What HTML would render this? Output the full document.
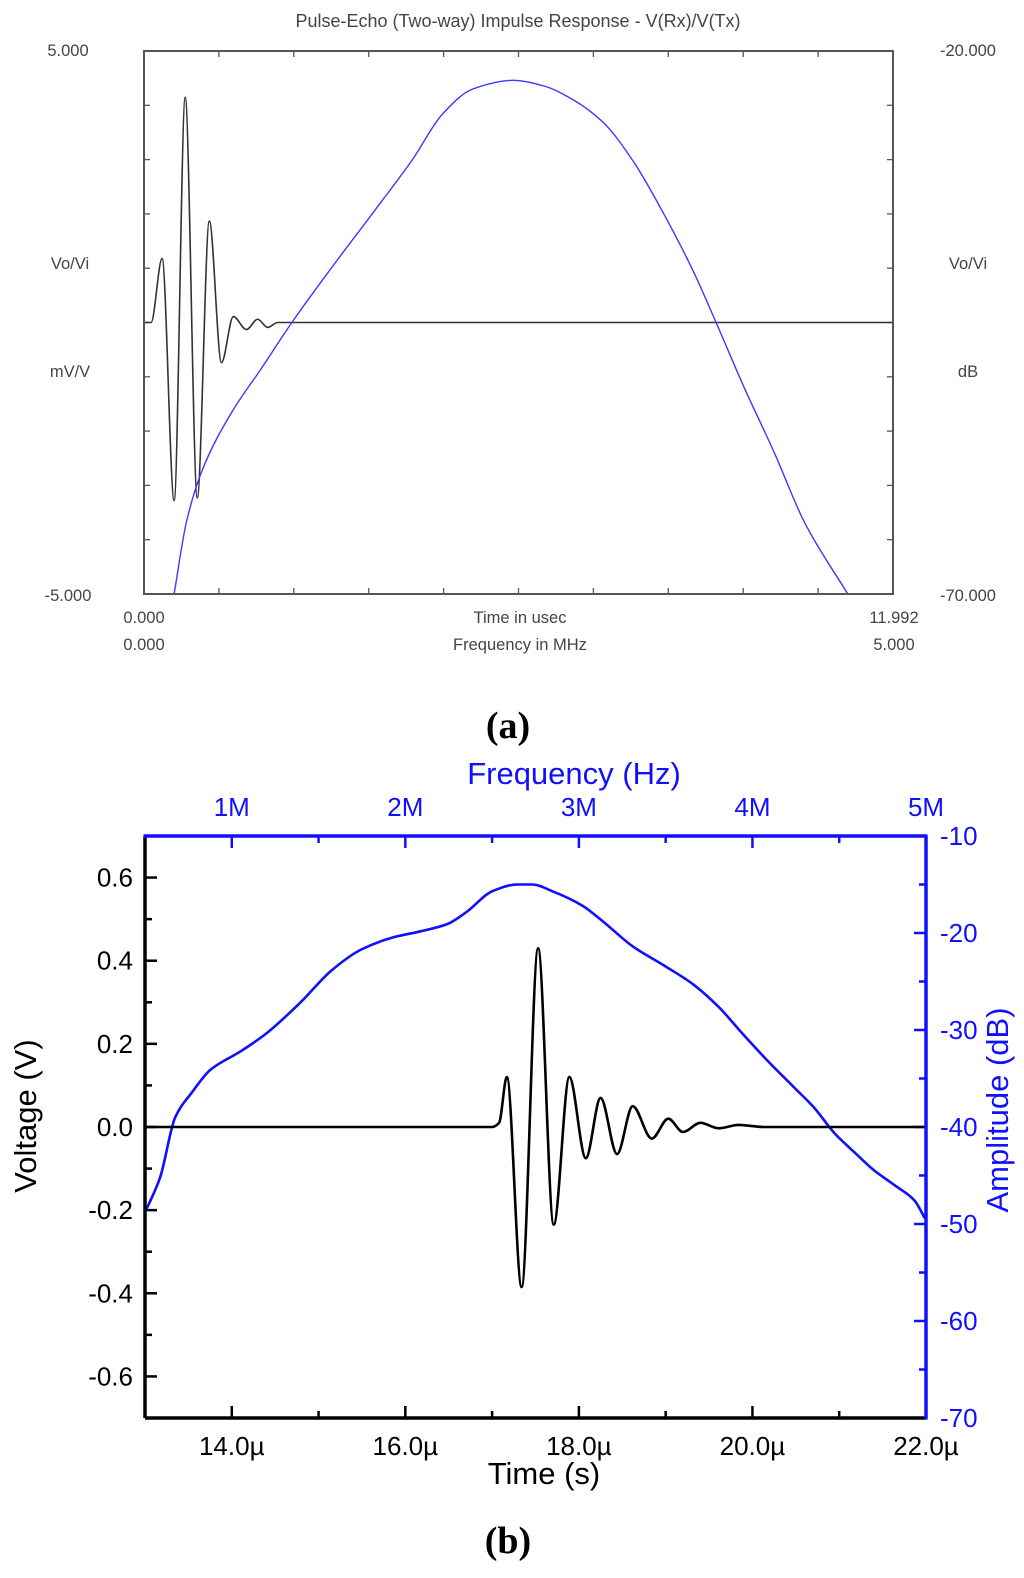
<!DOCTYPE html>
<html><head><meta charset="utf-8"><style>
html,body{margin:0;padding:0;background:#fff;}
svg{display:block;font-family:"Liberation Sans",sans-serif;}
</style></head><body>
<svg id="fig" width="1024" height="1578" viewBox="0 0 1024 1578">
<g id="chartA"></g>
<g id="chartB"></g>
<text x="508" y="738" text-anchor="middle" font-family="Liberation Serif,serif" font-weight="bold" font-size="38">(a)</text>
<text x="508" y="1553" text-anchor="middle" font-family="Liberation Serif,serif" font-weight="bold" font-size="38">(b)</text>
</svg>
<script>
// ---- Chart A data ----
const aTime = [0.0,0.048,0.113,0.29,0.483,0.66,0.853,1.046,1.24,1.43,1.64,1.82,1.98,2.14,11.992];
const aVolt = [0,0,0,1.18,-3.28,4.15,-3.23,1.87,-0.74,0.11,-0.13,0.06,-0.09,0,0];
const aFreq = [0.201,0.282,0.383,0.584,0.785,0.987,1.255,1.523,1.792,1.993,2.195,2.463,2.664,2.866,3.067,3.268,3.470,3.671,3.819,4.007,4.208,4.409,4.698];
const aDb = [-70,-63.45,-58.8,-53.3,-49.2,-45.0,-39.9,-35.0,-30.0,-25.8,-23.5,-22.7,-23.2,-24.5,-26.6,-30.2,-35.0,-40.4,-45.0,-51.0,-57.0,-63.4,-70];
// ---- Chart B data ----
const bTime = [13.0,17.0,17.08,17.17,17.34,17.53,17.71,17.89,18.08,18.25,18.44,18.62,18.84,19.03,19.20,19.40,19.61,19.84,20.13,22.0];
const bVolt = [0,0,0.01,0.12,-0.385,0.43,-0.235,0.12,-0.075,0.07,-0.065,0.05,-0.028,0.02,-0.012,0.01,-0.003,0.005,0,0];
const bFreq = [0.5,0.587,0.674,0.772,0.877,1.051,1.196,1.399,1.572,1.746,1.920,2.094,2.239,2.355,2.5,2.645,2.732,2.848,3.022,3.138,3.312,3.486,3.659,3.804,3.949,4.094,4.239,4.355,4.471,4.587,4.703,4.819,4.935,4.993];
const bDb = [-48.8,-45.2,-39.0,-36.4,-34.1,-32.2,-30.4,-27.1,-23.9,-21.7,-20.5,-19.8,-19.1,-17.8,-15.7,-15.0,-15.0,-15.7,-17.2,-18.8,-21.4,-23.3,-25.3,-27.6,-30.5,-33.3,-35.9,-38.0,-40.6,-42.6,-44.5,-46.0,-47.6,-49.4];
const bTimeTicks = [14,16,18,20,22];
const bTimeLabels = ["14.0µ","16.0µ","18.0µ","20.0µ","22.0µ"];
const bFreqTicks = [1,2,3,4,5];
const bFreqLabels = ["1M","2M","3M","4M","5M"];
const bVoltTicks = [0.6,0.4,0.2,0.0,-0.2,-0.4,-0.6];
const bVoltLabels = ["0.6","0.4","0.2","0.0","-0.2","-0.4","-0.6"];
const bDbTicks = [-10,-20,-30,-40,-50,-60,-70];
const bDbLabels = ["-10","-20","-30","-40","-50","-60","-70"];

const NS="http://www.w3.org/2000/svg";
function mk(parent,tag,attrs,text){const e=document.createElementNS(NS,tag);for(const k in attrs)e.setAttribute(k,attrs[k]);if(text!==undefined)e.textContent=text;parent.appendChild(e);return e;}
function lin(d0,d1,r0,r1){return v=>r0+(v-d0)*(r1-r0)/(d1-d0);}
function smooth(pts){const n=pts.length;const dx=[],s=[];
 for(let i=0;i<n-1;i++){dx.push(pts[i+1][0]-pts[i][0]);s.push((pts[i+1][1]-pts[i][1])/dx[i]);}
 const m=new Array(n);m[0]=s[0];m[n-1]=s[n-2];
 for(let i=1;i<n-1;i++){if(s[i-1]*s[i]<=0)m[i]=0;else{const w1=2*dx[i]+dx[i-1],w2=dx[i]+2*dx[i-1];m[i]=(w1+w2)/(w1/s[i-1]+w2/s[i]);}}
 let d="M"+pts[0][0].toFixed(2)+","+pts[0][1].toFixed(2);
 for(let i=0;i<n-1;i++){const h=dx[i]/3;
 d+=" C"+(pts[i][0]+h).toFixed(2)+","+(pts[i][1]+m[i]*h).toFixed(2)+" "+(pts[i+1][0]-h).toFixed(2)+","+(pts[i+1][1]-m[i+1]*h).toFixed(2)+" "+pts[i+1][0].toFixed(2)+","+pts[i+1][1].toFixed(2);}
 return d;}

// ===== Chart A =====
(function(){
const g=document.getElementById('chartA');
const L=144,R=893,T=51,B=594;
const xT=lin(0,11.992,L,R), yV=lin(-5,5,B,T), xF=lin(0,5,L,R), yD=lin(-70,-20,B,T);
let t=mk(g,'text',{x:518,y:27,'text-anchor':'middle','font-size':18,fill:'#444'},'Pulse-Echo (Two-way) Impulse Response - V(Rx)/V(Tx)');


const clip=mk(g,'clipPath',{id:'clipA'});mk(clip,'rect',{x:L,y:T,width:R-L,height:B-T});
for(let i=1;i<10;i++){const x=L+(R-L)*i/10;
 let a=mk(g,'line',{x1:x,y1:T,x2:x,y2:T+6,stroke:'#555','stroke-width':1.3});
 
 
 let b=mk(g,'line',{x1:x,y1:B,x2:x,y2:B-6,stroke:'#555','stroke-width':1.3});
 
 }
for(let i=1;i<10;i++){const y=T+(B-T)*i/10;
 let a=mk(g,'line',{x1:L,y1:y,x2:L+6,y2:y,stroke:'#555','stroke-width':1.3});
 
 
 let b=mk(g,'line',{x1:R,y1:y,x2:R-6,y2:y,stroke:'#555','stroke-width':1.3});
 
 }
const pv=aTime.map((v,i)=>[xT(v),yV(aVolt[i])]);
let p1=mk(g,'path',{d:smooth(pv),fill:'none',stroke:'#333','stroke-width':1.6,'clip-path':'url(#clipA)'});


const pf=aFreq.map((v,i)=>[xF(v),yD(aDb[i])]);
let p2=mk(g,'path',{d:smooth(pf),fill:'none',stroke:'#3a3aff','stroke-width':1.4,'clip-path':'url(#clipA)'});


let box=mk(g,'rect',{x:L,y:T,width:R-L,height:B-T,fill:'none',stroke:'#555','stroke-width':2});


const labs=[[68,56,'5.000','y-max-label'],[68,601,'-5.000','y-min-label'],[70,269,'Vo/Vi','left-axis-title'],[70,377,'mV/V','left-axis-unit'],
[968,56,'-20.000','right-max-label'],[968,601,'-70.000','right-min-label'],[968,269,'Vo/Vi','right-axis-title'],[968,377,'dB','right-axis-unit'],
[144,623,'0.000','time-min-label'],[520,623,'Time in usec','x-axis-title'],[894,623,'11.992','time-max-label'],
[144,650,'0.000','freq-min-label'],[520,650,'Frequency in MHz','x2-axis-title'],[894,650,'5.000','freq-max-label']];
labs.forEach(l=>{const e=mk(g,'text',{x:l[0],y:l[1],'text-anchor':'middle','font-size':16.5,fill:'#444'},l[2]);
 
 });
})();

// ===== Chart B =====
(function(){
const g=document.getElementById('chartB');
const L=145,R=926,T=836,B=1418;
const xT=lin(13,22,L,R), yV=lin(-0.7,0.7,B,T), xF=lin(0.5,5,L,R), yD=lin(-70,-10,B,T);
const blue='#1010ff';
const clip=mk(g,'clipPath',{id:'clipB'});mk(clip,'rect',{x:L,y:T,width:R-L,height:B-T});
for(let v=13.5;v<=22;v+=0.5){const major=Math.abs(v-Math.round(v/2)*2)<1e-6, mid=!major&&Math.abs(v-Math.round(v))<1e-6; if(!major&&!mid)continue;
 const x=xT(v);const e=mk(g,'line',{x1:x,y1:B,x2:x,y2:B-(major?12:7),stroke:'#000','stroke-width':2.5});
 
 }
bTimeTicks.forEach((v,i)=>{const e=mk(g,'text',{x:xT(v),y:1455,'text-anchor':'middle','font-size':26},bTimeLabels[i]);
 
 });
for(let v=1;v<=5;v+=0.5){const major=Math.abs(v-Math.round(v))<1e-6;const x=xF(v);
 const e=mk(g,'line',{x1:x,y1:T,x2:x,y2:T+(major?12:7),stroke:blue,'stroke-width':2.5});
 
 }
bFreqTicks.forEach((v,i)=>{const e=mk(g,'text',{x:xF(v),y:816,'text-anchor':'middle','font-size':26,fill:blue},bFreqLabels[i]);
 
 });
for(let k=-6;k<=6;k++){const v=k/10;const major=k%2===0;const y=yV(v);
 const e=mk(g,'line',{x1:L,y1:y,x2:L+(major?12:7),y2:y,stroke:'#000','stroke-width':2.5});
 
 }
bVoltTicks.forEach((v,i)=>{const e=mk(g,'text',{x:133,y:yV(v)+9,'text-anchor':'end','font-size':26},bVoltLabels[i]);
 
 });
for(let v=-65;v<=-15;v+=5){const major=v%10===0;const y=yD(v);
 const e=mk(g,'line',{x1:R,y1:y,x2:R-(major?12:7),y2:y,stroke:blue,'stroke-width':2.5});
 
 }
bDbTicks.forEach((v,i)=>{const e=mk(g,'text',{x:940,y:yD(v)+9,'text-anchor':'start','font-size':26,fill:blue},bDbLabels[i]);
 
 });
const pf=bFreq.map((v,i)=>[xF(v),yD(bDb[i])]);
let p2=mk(g,'path',{d:smooth(pf),fill:'none',stroke:blue,'stroke-width':2.6,'clip-path':'url(#clipB)'});


const pv=bTime.map((v,i)=>[xT(v),yV(bVolt[i])]);
let p1=mk(g,'path',{d:smooth(pv),fill:'none',stroke:'#000','stroke-width':2.6,'clip-path':'url(#clipB)'});


let a1=mk(g,'line',{x1:L,y1:B,x2:R,y2:B,stroke:'#000','stroke-width':3.5});


let a2=mk(g,'line',{x1:L,y1:T,x2:L,y2:B,stroke:'#000','stroke-width':3.5});


let a3=mk(g,'line',{x1:L-1.5,y1:T,x2:R+1.5,y2:T,stroke:blue,'stroke-width':3.5});


let a4=mk(g,'line',{x1:R,y1:T,x2:R,y2:B+1.5,stroke:blue,'stroke-width':3.5});


let t1=mk(g,'text',{x:574,y:784,'text-anchor':'middle','font-size':31,fill:blue},'Frequency (Hz)');


let t2=mk(g,'text',{x:544,y:1484,'text-anchor':'middle','font-size':31},'Time (s)');


let t3=mk(g,'text',{x:0,y:0,'text-anchor':'middle','font-size':31,transform:'translate(36,1116) rotate(-90)'},'Voltage (V)');


let t4=mk(g,'text',{x:0,y:0,'text-anchor':'middle','font-size':31,fill:blue,transform:'translate(1008,1110) rotate(-90)'},'Amplitude (dB)');


})();
</script>
</body></html>
